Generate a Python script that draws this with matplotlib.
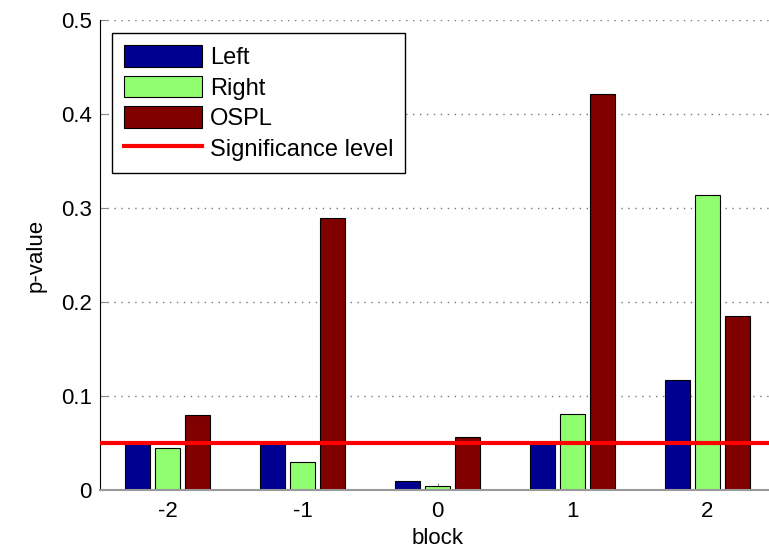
import numpy as np
import matplotlib.pyplot as plt

plt.rcParams['font.family'] = ['Liberation Sans', 'DejaVu Sans']

# datos
blocks = [-2, -1, 0, 1, 2]
left = [0.050, 0.050, 0.010, 0.050, 0.117]
right = [0.045, 0.030, 0.004, 0.081, 0.314]
ospl = [0.080, 0.289, 0.056, 0.421, 0.185]
sig_level = 0.05

names = ['Left', 'Right', 'OSPL']
colors = ['#000090', '#8FFF70', '#800000']

fig = plt.figure(figsize=(7.69, 5.54), dpi=100)
ax = fig.add_axes([100 / 769, 64 / 554, 675 / 769, 470 / 554])

x = np.array(blocks, dtype=float)
w = 0.185
step = 0.222
handles = []
for i, (vals, name, c) in enumerate(zip([left, right, ospl], names, colors)):
    b = ax.bar(x + (i - 1) * step, vals, width=w, color=c, edgecolor='black',
               linewidth=0.8, label=name, zorder=2)
    handles.append(b)

line = ax.axhline(sig_level, color='red', linewidth=3, label='Significance level', zorder=3)
handles.append(line)

ax.set_xlim(-2.5, 2.5)
ax.set_ylim(0, 0.5)
ax.set_xticks(blocks)
ax.set_xticklabels([str(b) for b in blocks])
ax.set_yticks([0, 0.1, 0.2, 0.3, 0.4, 0.5])
ax.set_yticklabels(['0', '0.1', '0.2', '0.3', '0.4', '0.5'])
ax.tick_params(direction='in', labelsize=16, length=5, color='#888888')
ax.tick_params(axis='x', pad=8)
ax.tick_params(axis='y', pad=6)
ax.yaxis.grid(True, linestyle=(0, (1, 4)), color='#777777', linewidth=1)
ax.set_axisbelow(True)

ax.spines['top'].set_visible(False)
ax.spines['right'].set_visible(False)
ax.spines['left'].set_color('black')
ax.spines['bottom'].set_color('#999999')
ax.spines['bottom'].set_linewidth(1.5)

ax.set_xlabel('block', fontsize=16, labelpad=4)
ax.set_ylabel('p-value', fontsize=16, labelpad=10)

leg = ax.legend(handles=handles, loc='upper left', bbox_to_anchor=(0.018, 0.972),
                borderaxespad=0, fontsize=17,
                handlelength=3.3, handleheight=1.05, labelspacing=0.28,
                handletextpad=0.35, borderpad=0.5, fancybox=False, framealpha=1)
leg.get_frame().set_edgecolor('black')
leg.get_frame().set_linewidth(1)

fig.savefig('out.png', dpi=100)
